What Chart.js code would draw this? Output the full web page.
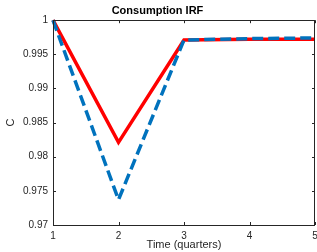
<!DOCTYPE html>
<html>
<head>
<meta charset="utf-8">
<script src="https://cdn.jsdelivr.net/npm/chart.js@4"></script>
<style>
  html, body { margin: 0; padding: 0; background: #fff; }
  #wrap { width: 317px; height: 252px; }
</style>
</head>
<body>
<div id="wrap"><canvas id="irfChart" width="317" height="252"></canvas></div>
<script>
//quarters on the x axis
var quarters = [1, 2, 3, 4, 5];
//consumption response, solid red line
var consRed = [1, 0.9821, 0.9971, 0.9972, 0.9972];
//consumption response, dashed blue line
var consBlue = [1, 0.9737, 0.9971, 0.9973, 0.9974];
//axis ticks
var xTicks = [1, 2, 3, 4, 5];
var yTicks = [0.97, 0.975, 0.98, 0.985, 0.99, 0.995, 1];

var axisColor = '#262626';
var tickFont = { family: 'Liberation Sans, Arial, sans-serif', size: 10 };

//builds {x, y} points from the arrays
function toPoints(xs, ys) {
    var pts = [];
    for (var i = 0; i < xs.length; i++) {
        pts.push({ x: xs[i], y: ys[i] });
    }
    return pts;
}

//draws the matlab style box with inward ticks
var boxPlugin = {
    id: 'boxPlugin',
    afterDatasetsDraw: function(chart) {
        var ctx = chart.ctx;
        var a = chart.chartArea;
        var sx = chart.scales.x;
        var sy = chart.scales.y;
        ctx.save();
        ctx.strokeStyle = axisColor;
        ctx.lineWidth = 1;
        ctx.beginPath();
        xTicks.forEach(function(t) {
            var px = Math.round(sx.getPixelForValue(t)) + 0.5;
            ctx.moveTo(px, a.bottom);
            ctx.lineTo(px, a.bottom - 3);
            ctx.moveTo(px, a.top);
            ctx.lineTo(px, a.top + 3);
        });
        yTicks.forEach(function(t) {
            var py = Math.round(sy.getPixelForValue(t)) + 0.5;
            ctx.moveTo(a.left, py);
            ctx.lineTo(a.left + 3, py);
            ctx.moveTo(a.right, py);
            ctx.lineTo(a.right - 3, py);
        });
        ctx.stroke();
        ctx.strokeRect(Math.round(a.left) + 0.5, Math.round(a.top) + 0.5,
            Math.round(a.right - a.left) - 1, Math.round(a.bottom - a.top));
        ctx.restore();
    }
};

var ctx = document.getElementById('irfChart').getContext('2d');
var irfChart = new Chart(ctx, {
    type: 'line',
    data: {
        datasets: [{
            data: toPoints(quarters, consBlue),
            borderColor: '#0072BD',
            borderWidth: 3.5,
            borderDash: [11, 5],
            pointRadius: 0,
            tension: 0,
            order: 0
        }, {
            data: toPoints(quarters, consRed),
            borderColor: '#FF0000',
            borderWidth: 3.5,
            pointRadius: 0,
            tension: 0,
            order: 1
        }]
    },
    options: {
        responsive: false,
        animation: false,
        clip: false,
        layout: { padding: { left: 0, right: 2, top: 0, bottom: 0 } },
        plugins: {
            legend: { display: false },
            tooltip: { enabled: false },
            title: {
                display: true,
                text: 'Consumption IRF',
                color: '#000',
                font: { family: 'Liberation Sans, Arial, sans-serif', size: 11, weight: 'bold' },
                padding: { top: 4, bottom: 3 }
            }
        },
        scales: {
            x: {
                type: 'linear',
                min: 1,
                max: 5,
                afterBuildTicks: function(scale) {
                    scale.ticks = xTicks.map(function(v) { return { value: v }; });
                },
                afterFit: function(scale) {
                    scale.height = 27;
                    scale.paddingRight = 0;
                    scale.paddingLeft = 0;
                },
                grid: { display: false, drawTicks: false },
                border: { display: false },
                ticks: { color: axisColor, font: tickFont, padding: 5, maxRotation: 0 },
                title: {
                    display: true,
                    text: 'Time (quarters)',
                    color: axisColor,
                    font: { family: 'Liberation Sans, Arial, sans-serif', size: 11 },
                    padding: { top: 0, bottom: 0 }
                }
            },
            y: {
                type: 'linear',
                min: 0.97,
                max: 1,
                afterBuildTicks: function(scale) {
                    scale.ticks = yTicks.map(function(v) { return { value: v }; });
                },
                afterFit: function(scale) { scale.width = 53; },
                grid: { display: false, drawTicks: false },
                border: { display: false },
                ticks: {
                    color: axisColor,
                    font: tickFont,
                    padding: 5,
                    callback: function(v) { return String(+v.toFixed(3)); }
                },
                title: {
                    display: true,
                    text: 'C',
                    color: axisColor,
                    font: { family: 'Liberation Sans, Arial, sans-serif', size: 11 },
                    padding: { top: 4, bottom: 0 }
                }
            }
        }
    },
    plugins: [boxPlugin]
});
</script>
</body>
</html>
